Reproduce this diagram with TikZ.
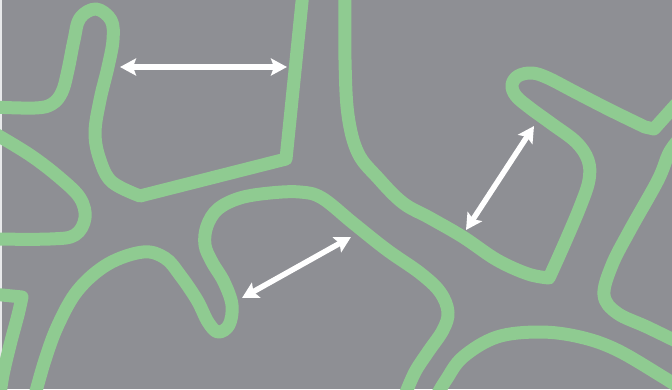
\documentclass[tikz,border=0pt]{standalone}
\usepackage{tikz}
\usetikzlibrary{arrows.meta}
\usepackage{xcolor}
\definecolor{cellbg}{RGB}{142,143,148}
\definecolor{wallgreen}{RGB}{143,203,145}

\begin{document}
\begin{tikzpicture}[x=1pt,y=-1pt,>={Stealth[length=16pt,width=17pt,inset=3pt]},
  wall/.style={wallgreen,line width=13pt,line cap=round,line join=round},
  gap/.style={<->,white,line width=5.5pt}]
\useasboundingbox (0,0) rectangle (672,389);
\fill[cellbg] (0,0) rectangle (672,389);
\fill[white!80!cellbg] (0,0) rectangle (2,389);
\clip (0,0) rectangle (672,389);
% walls
\draw[wall] plot[smooth,tension=0.6] coordinates {(-8,107) (35,108) (52,104) (62,92) (68,70) (74,40) (80,18) (96,9) (111,20) (113,40) (108,67) (100,100) (95,133) (100,160) (112,182) (140,196)} -- (286,159) -- (303,-8);
\draw[wall] plot[smooth,tension=0.6] coordinates {(-8,132) (30,155) (60,178) (80,198) (85,218) (75,235) (50,239) (-8,239)};
\draw[wall] plot[smooth,tension=0.6] coordinates {(35,395) (45,360) (58,325) (78,290) (108,264) (143,252) (165,258) (180,275) (197,300) (208,322) (218,332) (229,325) (232,305) (224,282) (212,262) (205,245) (207,226) (218,209) (240,198) (270,193) (300,192) (322,198) (353,223) (387,250) (420,273) (440,292) (448,312) (443,330) (428,352) (415,372) (405,395)};
\draw[wall] plot[smooth,tension=0.6] coordinates {(345,-8) (345,60) (348,115) (358,153) (378,178) (403,203) (430,218) (463,237) (497,260) (528,274) (549,278)} -- plot[smooth,tension=0.6] coordinates {(549,278) (563,247) (580,207) (589,180) (588,160) (576,142) (552,124) (530,108) (516,96) (512,85) (518,76) (532,73) (548,78) (575,92) (610,110) (645,127)} -- (654,129) -- (680,100);
\draw[wall] plot[smooth,tension=0.6] coordinates {(680,138) (669,153) (658,180) (630,230) (612,265) (604,295) (617,313) (647,327) (680,343)};
\draw[wall] plot[smooth,tension=0.6] coordinates {(437,395) (446,380) (463,357) (497,337) (540,332) (580,337) (617,350) (663,377) (680,388)};
\draw[wall] (-8,294) -- plot[smooth,tension=0.6] coordinates {(22,297) (18,315) (10,345) (3,375) (0,395)};
% distances
\coordinate (l1) at (120,67);
\coordinate (r1) at (287,67);
\coordinate (l2) at (242,298);
\coordinate (r2) at (351,237);
\coordinate (l3) at (466,230);
\coordinate (r3) at (534,126);
\draw[gap] (l1) -- (r1);
\draw[gap] (l2) -- (r2);
\draw[gap] (l3) -- (r3);
\end{tikzpicture}
\end{document}
